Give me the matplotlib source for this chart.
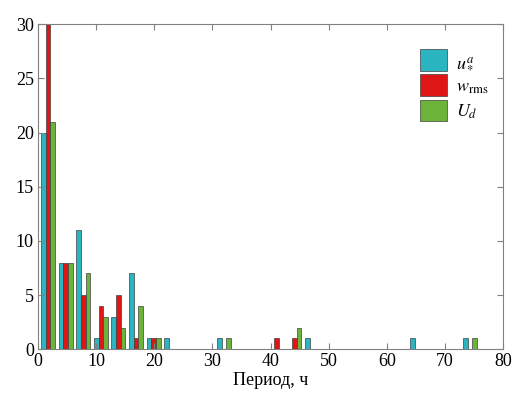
import numpy as np
import matplotlib
matplotlib.use("Agg")
import matplotlib.pyplot as plt

plt.rcParams['font.family'] = ['Liberation Serif', 'DejaVu Serif']
plt.rcParams['mathtext.fontset'] = 'stix'

# bin centres (hours) and counts per bin
bin_start = 1.74
bin_step = 3.025
n_bins = 25
u_star = [20, 8, 11, 1, 3, 7, 1, 1, 0, 0, 1, 0, 0, 0, 0, 1, 0, 0, 0, 0, 0, 1, 0, 0, 1]
w_rms = [30, 8, 5, 4, 5, 1, 1, 0, 0, 0, 0, 0, 0, 1, 1, 0, 0, 0, 0, 0, 0, 0, 0, 0, 0]
u_d = [21, 8, 7, 3, 2, 4, 1, 0, 0, 0, 1, 0, 0, 0, 2, 0, 0, 0, 0, 0, 0, 0, 0, 0, 1]
labels = [r'$u_*^a$', r'$w_{\mathrm{rms}}$', r'$U_d$']
colors = ['#2bb5c0', '#e01515', '#6cb33a']

centers = bin_start + bin_step * np.arange(n_bins)
bw = bin_step * 0.8 / 3

fig = plt.figure(figsize=(5.27, 3.99), dpi=100)
ax = fig.add_axes([0.0721, 0.1246, 0.8824, 0.8144])

for i, (vals, lab, col) in enumerate(zip([u_star, w_rms, u_d], labels, colors)):
    ax.bar(centers + (i - 1) * bw, vals, width=bw, color=col, edgecolor='#404040',
           linewidth=0.5, label=lab)

ax.set_xlim(0, 80)
ax.set_ylim(0, 30)
ax.set_xticks(range(0, 81, 10))
ax.set_yticks(range(0, 31, 5))
ax.tick_params(direction='in', top=True, right=True, color='#808080',
               labelsize=13, length=4, pad=3)
for s in ax.spines.values():
    s.set_color('#808080')
    s.set_linewidth(0.8)

ax.set_xlabel('Период, ч', fontsize=13, labelpad=1)
# y label is mostly cut off at the left edge in the original
fig.text(-0.024, 0.54, 'N', rotation=90, fontsize=13, va='center')

leg = ax.legend(loc='upper right', bbox_to_anchor=(0.985, 0.945), frameon=False,
                fontsize=13, handlelength=1.5, handleheight=1.45,
                handletextpad=0.5, labelspacing=0.2, borderaxespad=0)
for p in leg.get_patches():
    p.set_linewidth(0.5)

fig.savefig('out.png', dpi=100)
